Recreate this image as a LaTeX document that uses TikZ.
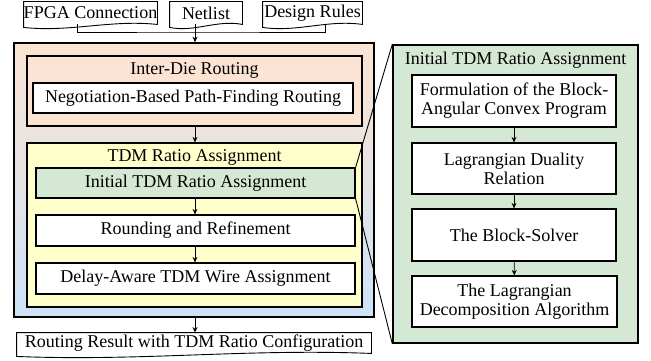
\documentclass[tikz,border=0pt]{standalone}
\usepackage{fontspec}
\setmainfont{Liberation Serif}
\newfontfamily\timesface{Liberation Serif}
\usetikzlibrary{positioning,arrows.meta,calc}
\definecolor{peach}{RGB}{251,228,211}
\definecolor{skyblue}{RGB}{206,226,248}
\definecolor{paleyellow}{RGB}{255,255,204}
\definecolor{sagegreen}{RGB}{213,232,212}

% document outline with a wavy bottom edge
\newcommand{\docoutline}[1]{%
  \draw[line width=0.9pt, fill=white]
    ($(#1.north west)$) -- ($(#1.north east)$) -- ($(#1.south east)$)
    .. controls ($(#1.south east)!0.35!(#1.south west)+(0,-5)$)
       and ($(#1.south east)!0.65!(#1.south west)+(0,8)$)
    .. ($(#1.south west)+(0,3)$) -- cycle;}

\begin{document}
\begin{tikzpicture}[x=1pt, y=-1pt, >={Stealth[length=5.5pt,width=5pt]},
  every node/.style={font=\timesface\fontsize{18}{19}\selectfont, align=center, inner sep=0pt},
  every path/.style={line width=0.9pt}]
  \useasboundingbox (0,0) rectangle (651,361);

  % inputs
  \node[minimum width=133pt, minimum height=22pt] (fpga) at (90.5,13) {};
  \node[minimum width=72pt, minimum height=22pt] (netlist) at (206,13) {};
  \node[minimum width=99pt, minimum height=22pt] (rules) at (312.5,13) {};
  \docoutline{fpga} \docoutline{netlist} \docoutline{rules}
  \node at (fpga) {FPGA Connection};
  \node at (netlist) {Netlist};
  \node at (rules) {Design Rules};

  % main flow
  \node[draw, line width=1.6pt, top color=peach, bottom color=skyblue,
        minimum width=360pt, minimum height=274pt] (flow) at (194,180) {};

  \node[draw, line width=1.2pt, fill=peach,
        minimum width=335pt, minimum height=70pt] (die) at (194.5,91) {};
  \node (dietitle) at (194.5,70) {Inter-Die Routing};
  \node[draw, line width=1.2pt, fill=white,
        minimum width=320pt, minimum height=30pt] (nbpf) at (193,98)
      {Negotiation-Based Path-Finding Routing};

  \node[draw, line width=1.2pt, fill=paleyellow,
        minimum width=335pt, minimum height=164pt] (tdm) at (194.5,225) {};
  \node (tdmtitle) at (194.5,157) {TDM Ratio Assignment};
  \node[draw, line width=1.2pt, fill=sagegreen,
        minimum width=319pt, minimum height=30pt] (init) at (195.5,183)
      {Initial TDM Ratio Assignment};
  \node[draw, line width=1.2pt, fill=white,
        minimum width=319pt, minimum height=31pt] (round) at (195.5,230.5)
      {Rounding and Refinement};
  \node[draw, line width=1.2pt, fill=white,
        minimum width=319pt, minimum height=31pt] (delay) at (195.5,278.5)
      {Delay-Aware TDM Wire Assignment};

  % output
  \node[minimum width=354pt, minimum height=20pt] (result) at (194,343) {};
  \docoutline{result}
  \node at (result) {Routing Result with TDM Ratio Configuration};

  % detail of the initial assignment
  \node[draw, line width=1.4pt, fill=sagegreen,
        minimum width=245pt, minimum height=298pt] (detail) at (515.5,194) {};
  \node (detailtitle) at (515.5,60) {Initial TDM Ratio Assignment};
  \node[draw, line width=1.2pt, fill=white,
        minimum width=204pt, minimum height=52pt] (b1) at (514,101)
      {Formulation of the Block-\\Angular Convex Program};
  \node[draw, line width=1.2pt, fill=white,
        minimum width=204pt, minimum height=51pt] (b2) at (514,168.5)
      {Lagrangian Duality\\Relation};
  \node[draw, line width=1.2pt, fill=white,
        minimum width=204pt, minimum height=52pt] (b3) at (514,235)
      {The Block-Solver};
  \node[draw, line width=1.2pt, fill=white,
        minimum width=205pt, minimum height=51pt] (b4) at (514.5,301.5)
      {The Lagrangian\\Decomposition Algorithm};

  % connectors
  \coordinate (j) at (195,32);
  \draw ([xshift=-13.5pt]fpga.south) -- ([xshift=-13.5pt]fpga.south |- j)
        -- (j) -| ([xshift=12.5pt]rules.south);
  \draw[->] (netlist.south -| j) -- (flow.north -| j);
  \draw[->] (die.south -| j) -- (tdm.north -| j);
  \draw[->] (init.south -| j) -- (round.north -| j);
  \draw[->] (round.south -| j) -- (delay.north -| j);
  \draw[->] (flow.south -| j) -- (result.north -| j);
  \draw[->] (b1) -- (b2);
  \draw[->] (b2) -- (b3);
  \draw[->] (b3) -- (b4);
  \draw (init.north east) -- (detail.north west);
  \draw (init.south east) -- (detail.south west);
\end{tikzpicture}
\end{document}
